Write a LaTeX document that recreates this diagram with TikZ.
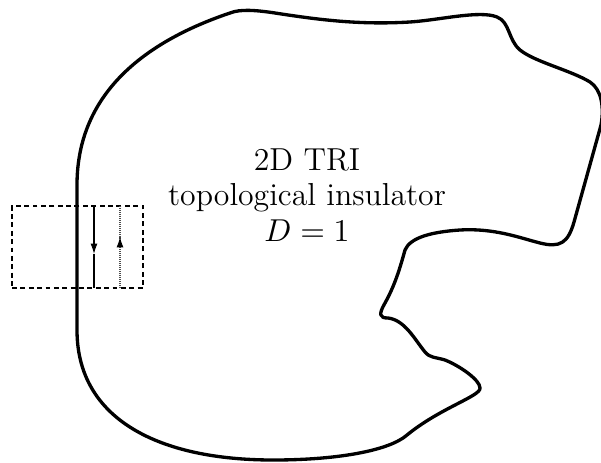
\documentclass[tikz,border=0pt]{standalone}
\usetikzlibrary{arrows.meta}
\begin{document}
\begin{tikzpicture}[x=0.346pt,y=-0.346pt,
  blob/.style={line width=1.15pt,line join=round},
  edgebox/.style={line width=0.4pt,dash pattern=on 1.7pt off 1.2pt},
  downedge/.style={line width=0.35pt},
  upedge/.style={line width=0.35pt,black!70,dash pattern=on 0.35pt off 0.35pt},
  tip/.style={-{Latex[length=3.6pt,width=2.4pt]}}]
\useasboundingbox (0,0) rectangle (601,462);
% sample outline
\draw[blob] (77,330) -- (77,185)
  .. controls (77,90) and (150,40) .. (230,13)
  .. controls (240,9) and (255,10) .. (275,13)
  .. controls (320,20) and (360,25) .. (410,22)
  .. controls (440,20) and (480,10) .. (497,17)
  .. controls (510,22) and (508,40) .. (520,50)
  .. controls (535,62) and (570,70) .. (590,82)
  .. controls (602,90) and (604,108) .. (601,125)
  -- (574,222)
  .. controls (568,243) and (560,248) .. (540,243)
  .. controls (520,238) and (495,228) .. (460,230)
  .. controls (430,232) and (410,238) .. (405,250)
  .. controls (400,268) and (395,285) .. (385,303)
  .. controls (378,315) and (380,318) .. (388,318)
  .. controls (405,320) and (415,340) .. (425,352)
  .. controls (430,358) and (435,357) .. (445,360)
  .. controls (460,366) and (480,380) .. (480,388)
  .. controls (481,396) and (440,408) .. (407,435)
  .. controls (390,450) and (340,460) .. (273,460)
  .. controls (160,460) and (77,420) .. (77,330) -- cycle;
% label
\node[align=center,inner sep=0pt,font=\fontsize{11}{12.2}\selectfont] (lbl) at (307,195)
  {2D TRI\\topological insulator\\$D=1$};
% edge box
\node[edgebox,draw,minimum width=131*0.346pt,minimum height=82*0.346pt,inner sep=0pt] (box) at (77.5,247) {};
\coordinate (dtop) at (94,206);
\coordinate (dmid) at (94,254);
\coordinate (dbot) at (94,288);
\coordinate (ubot) at (120,288);
\coordinate (umid) at (120,237);
\coordinate (utop) at (120,206);
\draw[downedge,tip] (dtop) -- (dmid);
\draw[downedge] (dmid) -- (dbot);
\draw[upedge] (ubot) -- (umid);
\draw[line width=0.35pt,tip] ([yshift=-3pt]umid) -- (umid);
\draw[upedge] (umid) -- (utop);
\end{tikzpicture}
\end{document}
